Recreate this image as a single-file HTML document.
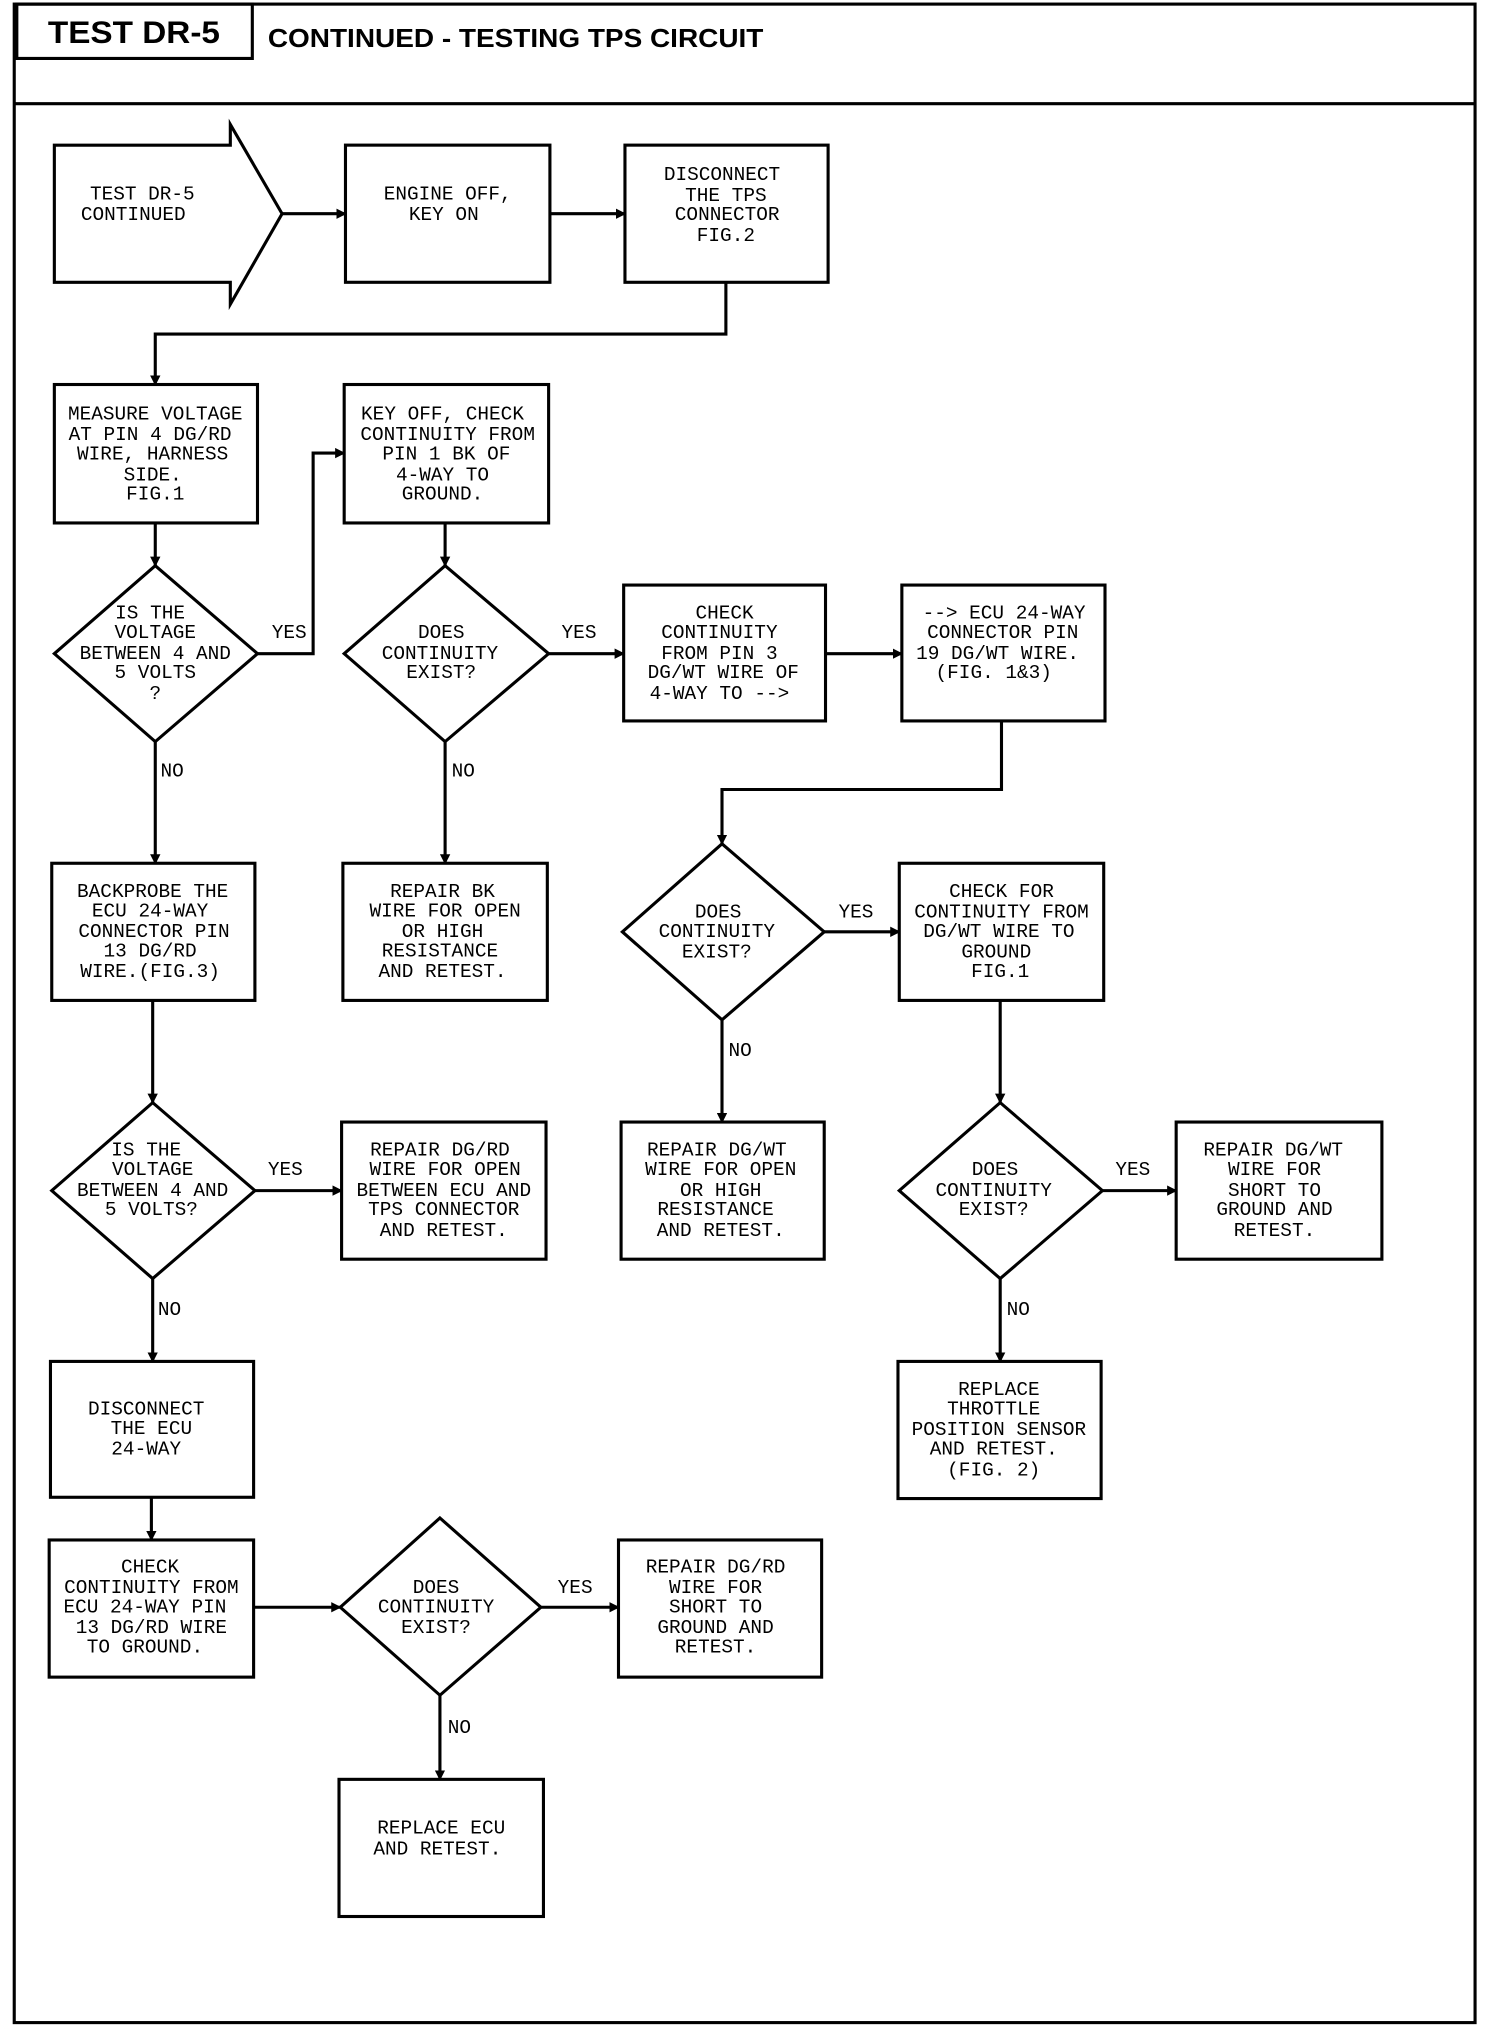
<!DOCTYPE html>
<html><head><meta charset="utf-8"><style>
html,body{margin:0;padding:0;background:#fff;}
svg{display:block}
.t{font-family:"Liberation Mono",monospace;font-size:15px;fill:#000;text-anchor:middle}
.l{font-family:"Liberation Mono",monospace;font-size:15px;fill:#000}
</style></head><body>
<svg width="1488" height="2028" viewBox="0 0 1150 1567" xmlns="http://www.w3.org/2000/svg">
<defs><marker id="a" markerWidth="8" markerHeight="8" refX="7" refY="4" orient="auto" markerUnits="userSpaceOnUse"><path d="M0,0 L8,4 L0,8 Z" fill="#000"/></marker></defs>
<g fill="none" stroke="#000" stroke-width="2.4">
<rect x="11" y="3" width="1129" height="1560"/>
<line x1="11" y1="80" x2="1140" y2="80"/>
<rect x="13" y="3" width="182" height="42"/>
<path d="M42,112 H178 V96 L218,165 L178,235 V218 H42 Z"/>
<rect x="267" y="112" width="158" height="106"/>
<rect x="483" y="112" width="157" height="106"/>
<rect x="42" y="297" width="157" height="107"/>
<rect x="266" y="297" width="158" height="107"/>
<rect x="482" y="452" width="156" height="105"/>
<rect x="697" y="452" width="157" height="105"/>
<rect x="695" y="667" width="158" height="106"/>
<rect x="480" y="867" width="157" height="106"/>
<rect x="909" y="867" width="159" height="106"/>
<rect x="694" y="1052" width="157" height="106"/>
<rect x="40" y="667" width="157" height="106"/>
<rect x="265" y="667" width="158" height="106"/>
<rect x="264" y="867" width="158" height="106"/>
<rect x="39" y="1052" width="157" height="105"/>
<rect x="38" y="1190" width="158" height="106"/>
<rect x="478" y="1190" width="157" height="106"/>
<rect x="262" y="1375" width="158" height="106"/>
<path d="M120,437 L199,505 L120,573 L42,505 Z"/>
<path d="M344,437 L424,505 L344,573 L266,505 Z"/>
<path d="M558,652 L637,720 L558,788 L481,720 Z"/>
<path d="M773,852 L852,920 L773,988 L695,920 Z"/>
<path d="M118,852 L197,920 L118,988 L40,920 Z"/>
<path d="M340,1173 L418,1242 L340,1310 L263,1242 Z"/>
</g>
<g fill="none" stroke="#000" stroke-width="2.4" marker-end="url(#a)">
<line x1="218" y1="165" x2="267" y2="165"/>
<line x1="425" y1="165" x2="483" y2="165"/>
<polyline points="561,218 561,258 120,258 120,297"/>
<line x1="120" y1="404" x2="120" y2="437"/>
<polyline points="199,505 242,505 242,350 266,350"/>
<line x1="344" y1="404" x2="344" y2="437"/>
<line x1="424" y1="505" x2="482" y2="505"/>
<line x1="638" y1="505" x2="697" y2="505"/>
<polyline points="774,557 774,610 558,610 558,652"/>
<line x1="637" y1="720" x2="695" y2="720"/>
<line x1="558" y1="788" x2="558" y2="867"/>
<line x1="773" y1="773" x2="773" y2="852"/>
<line x1="852" y1="920" x2="909" y2="920"/>
<line x1="773" y1="988" x2="773" y2="1052"/>
<line x1="120" y1="573" x2="120" y2="667"/>
<line x1="344" y1="573" x2="344" y2="667"/>
<line x1="118" y1="773" x2="118" y2="852"/>
<line x1="197" y1="920" x2="264" y2="920"/>
<line x1="118" y1="988" x2="118" y2="1052"/>
<line x1="117" y1="1157" x2="117" y2="1190"/>
<line x1="196" y1="1242" x2="263" y2="1242"/>
<line x1="418" y1="1242" x2="478" y2="1242"/>
<line x1="340" y1="1310" x2="340" y2="1375"/>
</g>
<text x="37" y="33" font-family="Liberation Sans,sans-serif" font-weight="bold" font-size="24" textLength="133" lengthAdjust="spacingAndGlyphs">TEST DR-5</text>
<text x="207" y="36" font-family="Liberation Sans,sans-serif" font-weight="bold" font-size="20" textLength="383" lengthAdjust="spacingAndGlyphs">CONTINUED - TESTING TPS CIRCUIT</text>
<g class="l">
<text x="210" y="493">YES</text><text x="434" y="493">YES</text><text x="648" y="709">YES</text>
<text x="862" y="908">YES</text><text x="207" y="908">YES</text><text x="431" y="1231">YES</text>
<text x="124" y="600">NO</text><text x="349" y="600">NO</text><text x="563" y="816">NO</text>
<text x="778" y="1016">NO</text><text x="122" y="1016">NO</text><text x="346" y="1339">NO</text>
</g>
<g class="t">
<text x="110" y="154">TEST DR-5</text><text x="103" y="170">CONTINUED</text>
<text x="346" y="154">ENGINE OFF,</text><text x="343" y="170">KEY ON</text>
<text x="558" y="139">DISCONNECT</text><text x="561" y="155">THE TPS</text><text x="562" y="170">CONNECTOR</text><text x="561" y="186">FIG.2</text>
<text x="120" y="324">MEASURE VOLTAGE</text><text x="116" y="340">AT PIN 4 DG/RD</text><text x="118" y="355">WIRE, HARNESS</text><text x="118" y="371">SIDE.</text><text x="120" y="386">FIG.1</text>
<text x="342" y="324">KEY OFF, CHECK</text><text x="346" y="340">CONTINUITY FROM</text><text x="345" y="355">PIN 1 BK OF</text><text x="342" y="371">4-WAY TO</text><text x="342" y="386">GROUND.</text>
<text x="116" y="478">IS THE</text><text x="120" y="493">VOLTAGE</text><text x="120" y="509">BETWEEN 4 AND</text><text x="120" y="524">5 VOLTS</text><text x="120" y="540">?</text>
<text x="341" y="493">DOES</text><text x="340" y="509">CONTINUITY</text><text x="341" y="524">EXIST?</text>
<text x="560" y="478">CHECK</text><text x="556" y="493">CONTINUITY</text><text x="556" y="509">FROM PIN 3</text><text x="559" y="524">DG/WT WIRE OF</text><text x="556" y="540">4-WAY TO --&gt;</text>
<text x="776" y="478">--&gt; ECU 24-WAY</text><text x="775" y="493">CONNECTOR PIN</text><text x="771" y="509">19 DG/WT WIRE.</text><text x="768" y="524">(FIG. 1&amp;3)</text>
<text x="555" y="709">DOES</text><text x="554" y="724">CONTINUITY</text><text x="554" y="740">EXIST?</text>
<text x="774" y="693">CHECK FOR</text><text x="774" y="709">CONTINUITY FROM</text><text x="772" y="724">DG/WT WIRE TO</text><text x="770" y="740">GROUND</text><text x="773" y="755">FIG.1</text>
<text x="554" y="893">REPAIR DG/WT</text><text x="557" y="908">WIRE FOR OPEN</text><text x="557" y="924">OR HIGH</text><text x="553" y="939">RESISTANCE</text><text x="557" y="955">AND RETEST.</text>
<text x="769" y="908">DOES</text><text x="768" y="924">CONTINUITY</text><text x="768" y="939">EXIST?</text>
<text x="984" y="893">REPAIR DG/WT</text><text x="985" y="908">WIRE FOR</text><text x="985" y="924">SHORT TO</text><text x="985" y="939">GROUND AND</text><text x="985" y="955">RETEST.</text>
<text x="772" y="1078">REPLACE</text><text x="768" y="1093">THROTTLE</text><text x="772" y="1109">POSITION SENSOR</text><text x="768" y="1124">AND RETEST.</text><text x="768" y="1140">(FIG. 2)</text>
<text x="118" y="693">BACKPROBE THE</text><text x="116" y="708">ECU 24-WAY</text><text x="119" y="724">CONNECTOR PIN</text><text x="116" y="739">13 DG/RD</text><text x="116" y="755">WIRE.(FIG.3)</text>
<text x="342" y="693">REPAIR BK</text><text x="344" y="708">WIRE FOR OPEN</text><text x="342" y="724">OR HIGH</text><text x="340" y="739">RESISTANCE</text><text x="342" y="755">AND RETEST.</text>
<text x="113" y="893">IS THE</text><text x="118" y="908">VOLTAGE</text><text x="118" y="924">BETWEEN 4 AND</text><text x="117" y="939">5 VOLTS?</text>
<text x="340" y="893">REPAIR DG/RD</text><text x="344" y="908">WIRE FOR OPEN</text><text x="343" y="924">BETWEEN ECU AND</text><text x="343" y="939">TPS CONNECTOR</text><text x="343" y="955">AND RETEST.</text>
<text x="113" y="1093">DISCONNECT</text><text x="117" y="1108">THE ECU</text><text x="113" y="1124">24-WAY</text>
<text x="116" y="1215">CHECK</text><text x="117" y="1231">CONTINUITY FROM</text><text x="112" y="1246">ECU 24-WAY PIN</text><text x="117" y="1262">13 DG/RD WIRE</text><text x="112" y="1277">TO GROUND.</text>
<text x="337" y="1231">DOES</text><text x="337" y="1246">CONTINUITY</text><text x="337" y="1262">EXIST?</text>
<text x="553" y="1215">REPAIR DG/RD</text><text x="553" y="1231">WIRE FOR</text><text x="553" y="1246">SHORT TO</text><text x="553" y="1262">GROUND AND</text><text x="553" y="1277">RETEST.</text>
<text x="341" y="1417">REPLACE ECU</text><text x="338" y="1433">AND RETEST.</text>
</g>
</svg>
</body></html>
